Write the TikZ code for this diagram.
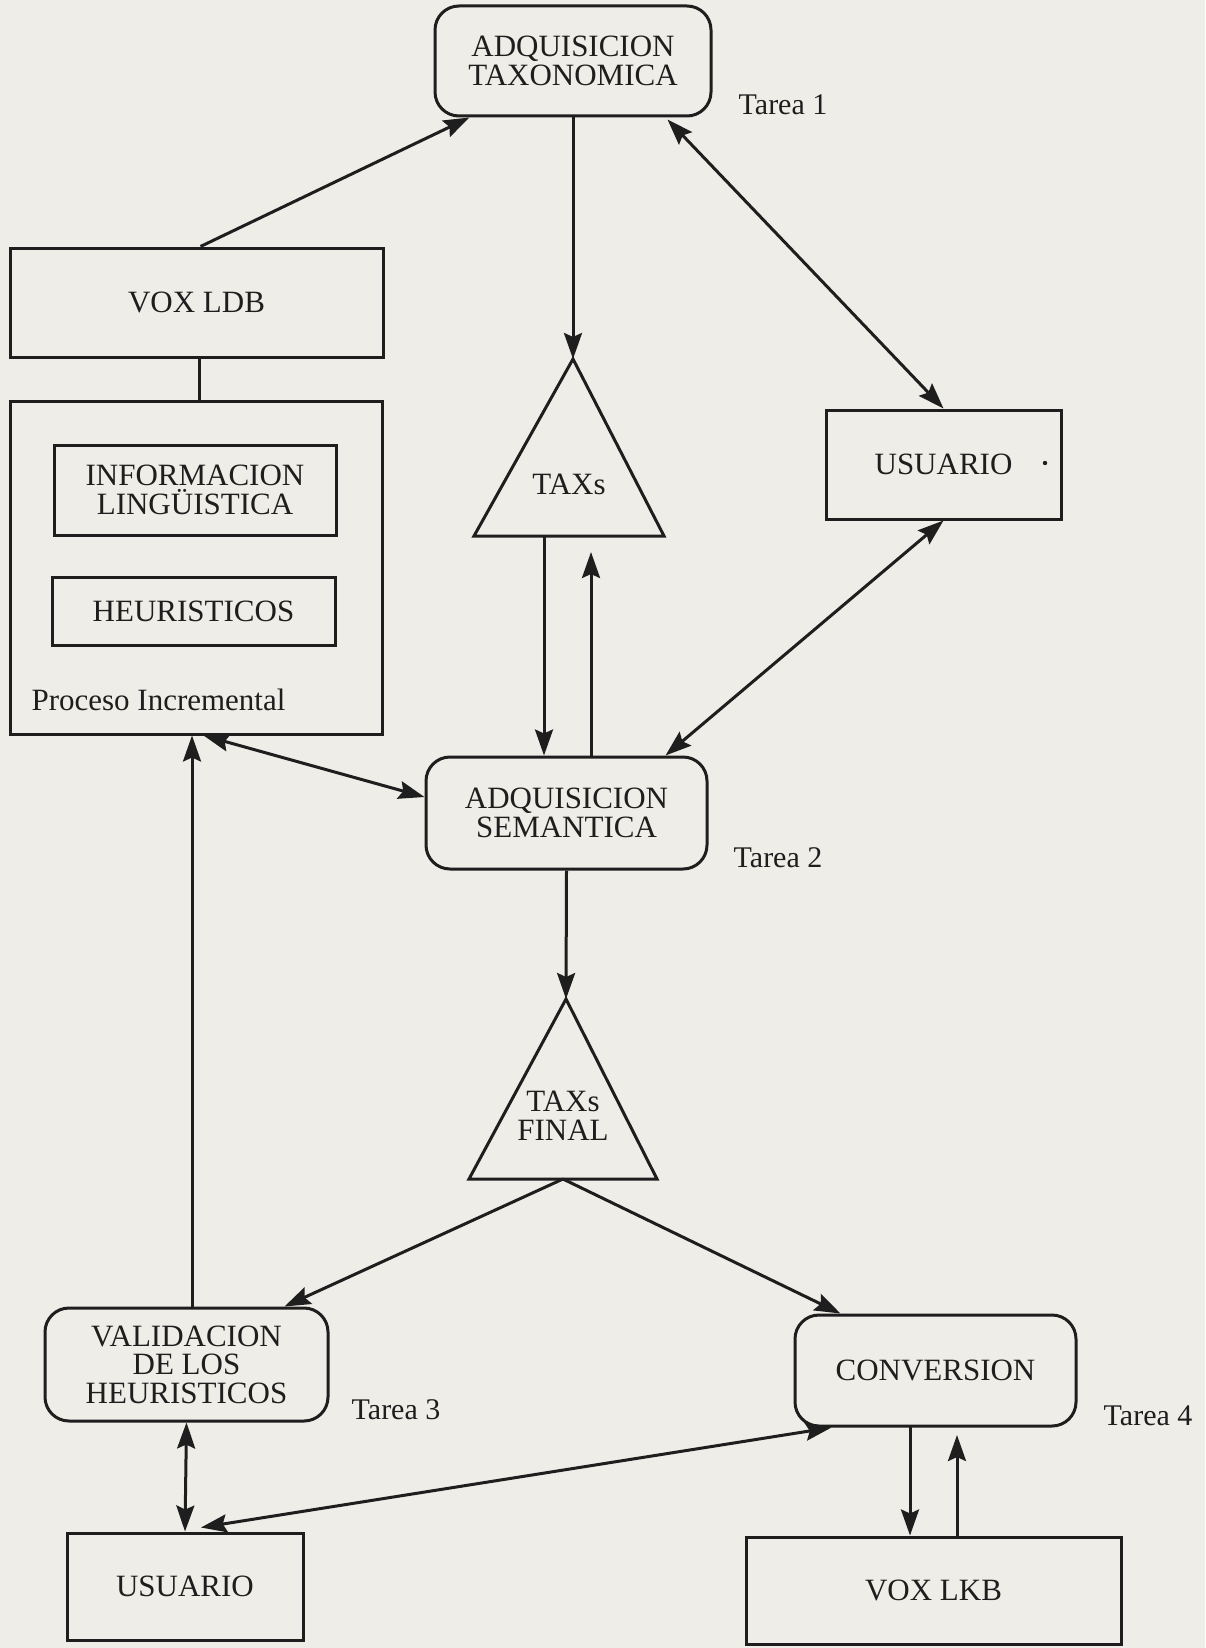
\documentclass[tikz,border=0pt]{standalone}
\usepackage{fontspec}
\setmainfont{Liberation Serif}
\usetikzlibrary{arrows.meta,calc}
\definecolor{paper}{HTML}{EFEDE7}
\definecolor{ink}{HTML}{1E1E1E}
\begin{document}
\begin{tikzpicture}[x=1pt,y=-1pt,
  every node/.style={font=\fontsize{31}{28.5}\selectfont, text=ink},
  box/.style={draw=ink, line width=3pt, rectangle, inner sep=0pt, align=center},
  rbox/.style={box, rounded corners=24pt},
  conn/.style={draw=ink, line width=3pt},
  tip/.style={-{Stealth[length=26pt,width=18pt,inset=4pt]}},
  tips/.style={{Stealth[length=26pt,width=18pt,inset=4pt]}-{Stealth[length=26pt,width=18pt,inset=4pt]}},
  lbl/.style={font=\fontsize{30}{30}\selectfont}
]
\fill[paper] (0,0) rectangle (1205,1648);
\useasboundingbox (0,0) rectangle (1205,1648);

% boxes
\node[rbox, minimum width=276pt, minimum height=110pt] (adqtax) at (573,61) {ADQUISICION\\TAXONOMICA};
\node[box, minimum width=373pt, minimum height=109pt] (voxldb) at (196.5,302.5) {VOX LDB};
\node[box, minimum width=372pt, minimum height=333pt] (outer) at (196,567.5) {};
\node[box, minimum width=282pt, minimum height=90pt] (info) at (195,490) {INFORMACION\\LINGÜISTICA};
\node[box, minimum width=283pt, minimum height=68pt] (heur) at (193.5,611) {HEURISTICOS};
\node[anchor=west] (proc) at (28,700) {Proceso Incremental};
\node[box, minimum width=235pt, minimum height=109pt] (usuR) at (943.5,464.5) {USUARIO};
\fill[ink] (1045,463) circle (2.2pt);
\node[rbox, minimum width=281pt, minimum height=112pt] (adqsem) at (566.5,813) {ADQUISICION\\SEMANTICA};
\node[rbox, minimum width=283pt, minimum height=113pt] (valid) at (186.5,1364.5) {VALIDACION\\DE LOS\\HEURISTICOS};
\node[box, minimum width=236pt, minimum height=107pt] (usuL) at (185,1586.5) {USUARIO};
\node[rbox, minimum width=281pt, minimum height=111pt] (conv) at (935.5,1370.5) {CONVERSION};
\node[box, minimum width=375pt, minimum height=107pt] (voxlkb) at (933.5,1590.5) {VOX LKB};

% labels
\node[lbl] (t1) at (783,105) {Tarea 1};
\node[lbl] (t2) at (778,858) {Tarea 2};
\node[lbl] (t3) at (396,1410) {Tarea 3};
\node[lbl] (t4) at (1148,1416) {Tarea 4};

% triangles
\coordinate (taxsA) at (573,359);
\coordinate (taxsL) at (474,536);
\coordinate (taxsR) at (664,536);
\draw[conn, line join=miter] (taxsA) -- (taxsL) -- (taxsR) -- cycle;
\node (taxs) at (569,484) {TAXs};

\coordinate (finA) at (566,999);
\coordinate (finL) at (469,1179);
\coordinate (finR) at (657,1179);
\coordinate (finB) at (563,1179);
\draw[conn, line join=miter] (finA) -- (finL) -- (finR) -- cycle;
\node[align=center] (fin) at (563,1116) {TAXs\\FINAL};

% connectors
\draw[conn,tip] ($(voxldb.north)+(4,0)$) -- ($(adqtax.south west)+(36,0)$);
\draw[conn,tip] (adqtax.south) -- (taxsA);
\draw[conn,tips] ($(adqtax.south east)+(-45,2)$) -- (usuR.north);
\draw[conn] (voxldb.south -| 199,0) -- (outer.north -| 199,0);
\coordinate (tdn) at (544,536);
\coordinate (tup) at (591,552);
\draw[conn,tip] (tdn) -- (tdn |- adqsem.north);
\draw[conn,tip] (tup |- adqsem.north) -- (tup);
\draw[conn,tips] (usuR.south) -- ($(adqsem.north east)+(-43,0)$);
\draw[conn,tips] ($(outer.south west)+(195,0)$) -- ($(adqsem.west)+(0,-16)$);
\draw[conn,tip] (valid.north -| 192,0) -- (outer.south -| 192,0);
\draw[conn,tip] (adqsem.south) -- (finA);
\draw[conn,tip] (finB) -- ($(valid.north east)+(-45,0)$);
\draw[conn,tip] (finB) -- ($(conv.north west)+(47,0)$);
\draw[conn,tips] (valid.south) -- (usuL.north);
\draw[conn,tips] ($(usuL.north)+(16,-4)$) -- ($(conv.south west)+(38,0)$);
\coordinate (cdn) at (910,1426);
\coordinate (cup) at (957,1435);
\draw[conn,tip] (cdn) -- (cdn |- voxlkb.north);
\draw[conn,tip] (cup |- voxlkb.north) -- (cup);
\end{tikzpicture}
\end{document}
